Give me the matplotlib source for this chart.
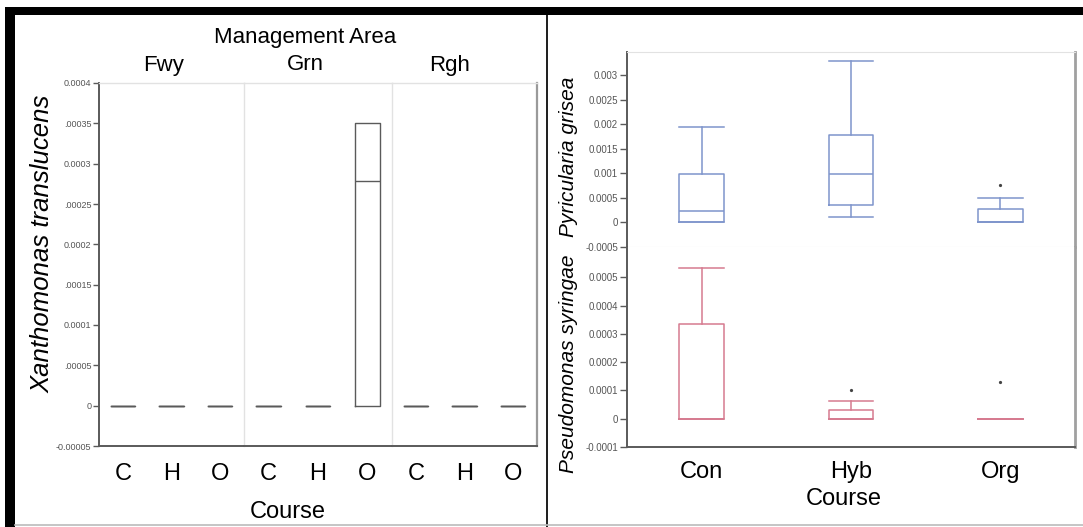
import matplotlib
matplotlib.use("Agg")
import matplotlib.pyplot as plt
from matplotlib.patches import Rectangle
from matplotlib.lines import Line2D

plt.rcParams['font.family'] = ['Liberation Sans', 'DejaVu Sans']

# ---- left chart: Xanthomonas translucens by management area ----
areas = ['Fwy', 'Grn', 'Rgh']
short_courses = ['C', 'H', 'O']
xt_q1 = [[0, 0, 0], [0, 0, 0], [0, 0, 0]]
xt_med = [[0, 0, 0], [0, 0, 0.000278], [0, 0, 0]]
xt_q3 = [[0, 0, 0], [0, 0, 0.000351], [0, 0, 0]]
xt_yticks = [-0.00005, 0, 0.00005, 0.0001, 0.00015, 0.0002, 0.00025, 0.0003, 0.00035, 0.0004]
xt_ylabels = ['-0.00005', '0', '.00005', '0.0001', '.00015', '0.0002', '.00025', '0.0003', '.00035', '0.0004']

# ---- right chart: Pyricularia grisea / Pseudomonas syringae ----
courses = ['Con', 'Hyb', 'Org']
pg_whislo = [0, 0.00012, 0]
pg_q1 = [0, 0.000345, 0]
pg_med = [0.000223, 0.000994, 0]
pg_q3 = [0.000994, 0.001785, 0.000264]
pg_whishi = [0.00195, 0.00329, 0.000507]
pg_fliers = [[], [], [0.00077]]
pg_yticks = [-0.0005, 0, 0.0005, 0.001, 0.0015, 0.002, 0.0025, 0.003]
pg_ylabels = ['-0.0005', '0', '0.0005', '0.001', '0.0015', '0.002', '0.0025', '0.003']

ps_whislo = [0, 0, 0]
ps_q1 = [0, 0, 0]
ps_med = [0, 0, 0]
ps_q3 = [0.000336, 0.000032, 0]
ps_whishi = [0.000532, 0.000064, 0]
ps_fliers = [[], [0.0001], [0.00013]]
ps_yticks = [-0.0001, 0, 0.0001, 0.0002, 0.0003, 0.0004, 0.0005]
ps_ylabels = ['-0.0001', '0', '0.0001', '0.0002', '0.0003', '0.0004', '0.0005']

W, H = 1083, 527
fig = plt.figure(figsize=(W / 100, H / 100), dpi=100)


def px_axes(x0, y0, x1, y1):
    return fig.add_axes([x0 / W, 1 - y1 / H, (x1 - x0) / W, (y1 - y0) / H])


def fx(x):
    return x / W


def fy(y):
    return 1 - y / H


dark = '#5a5a5a'
light = '#e2e2e2'
blue = '#7f95cc'
pink = '#d67b90'

# left facets
edges = [99, 244, 392, 537]
for i, area in enumerate(areas):
    ax = px_axes(edges[i], 83, edges[i + 1], 446)
    stats = []
    for j in range(3):
        stats.append(dict(med=xt_med[i][j], q1=xt_q1[i][j], q3=xt_q3[i][j],
                          whislo=xt_q1[i][j], whishi=xt_q3[i][j], fliers=[]))
    ax.bxp(stats, positions=[0, 1, 2], widths=0.5, showcaps=False, showfliers=False,
           boxprops=dict(color=dark, linewidth=1.0),
           medianprops=dict(color=dark, linewidth=1.0),
           whiskerprops=dict(color=dark, linewidth=1.0))
    ax.set_xlim(-0.5, 2.5)
    ax.set_ylim(-0.00005, 0.0004)
    ax.set_xticks([0, 1, 2])
    ax.set_xticklabels(short_courses, fontsize=17)
    ax.tick_params(axis='x', length=0, pad=12)
    ax.set_yticks(xt_yticks)
    if i == 0:
        ax.set_yticklabels(xt_ylabels, fontsize=6.5, color='#555555')
        ax.tick_params(axis='y', length=4, width=1, color=dark, pad=1.5)
        ax.spines['left'].set_color(dark)
        ax.spines['left'].set_linewidth(1.4)
    else:
        ax.set_yticklabels([])
        ax.tick_params(axis='y', length=0)
        ax.spines['left'].set_color(light)
        ax.spines['left'].set_linewidth(1.0)
    ax.spines['bottom'].set_color(dark)
    ax.spines['bottom'].set_linewidth(1.4)
    ax.spines['top'].set_color(light)
    ax.spines['top'].set_linewidth(1.0)
    if i == 2:
        ax.spines['right'].set_color('#9a9a9a')
        ax.spines['right'].set_linewidth(1.6)
    else:
        ax.spines['right'].set_visible(False)

fig.text(fx(305), fy(37), 'Management Area', fontsize=16, ha='center', va='center')
for area, xc in zip(areas, [164, 305, 450]):
    fig.text(fx(xc), fy(65), area, fontsize=16, ha='center', va='center')
fig.text(fx(288), fy(512), 'Course', fontsize=17, ha='center', va='center')
fig.text(fx(42), fy(244), 'Xanthomonas translucens', fontsize=18.5, style='italic',
         rotation=90, ha='center', va='center')

# right stacked box plots
ax_top = px_axes(627, 52, 1075, 247)
ax_bot = px_axes(627, 247, 1075, 447)


def draw_boxes(ax, whislo, q1, med, q3, whishi, fliers, color):
    stats = []
    for k in range(len(courses)):
        stats.append(dict(med=med[k], q1=q1[k], q3=q3[k],
                          whislo=whislo[k], whishi=whishi[k], fliers=fliers[k]))
    ax.bxp(stats, positions=[0, 1, 2], widths=0.3, capwidths=0.3,
           boxprops=dict(color=color, linewidth=1.1),
           medianprops=dict(color=color, linewidth=1.1),
           whiskerprops=dict(color=color, linewidth=1.1),
           capprops=dict(color=color, linewidth=1.1),
           flierprops=dict(marker='o', markersize=1.3, markerfacecolor='#444444',
                           markeredgecolor='#444444'))
    ax.set_xlim(-0.5, 2.5)


draw_boxes(ax_top, pg_whislo, pg_q1, pg_med, pg_q3, pg_whishi, pg_fliers, blue)
draw_boxes(ax_bot, ps_whislo, ps_q1, ps_med, ps_q3, ps_whishi, ps_fliers, pink)

ax_top.set_ylim(-0.0005, 0.00347)
ax_top.set_yticks(pg_yticks)
ax_top.set_yticklabels(pg_ylabels, fontsize=7, color='#555555')
ax_top.set_xticks([])
ax_bot.set_ylim(-0.0001, 0.000607)
ax_bot.set_yticks(ps_yticks)
ax_bot.set_yticklabels(ps_ylabels, fontsize=7, color='#555555')
ax_bot.set_xticks([0, 1, 2])
ax_bot.set_xticklabels(courses, fontsize=17)
ax_bot.tick_params(axis='x', length=0, pad=10)

for ax in (ax_top, ax_bot):
    ax.tick_params(axis='y', length=5, width=1, color=dark, pad=1.5)
    ax.spines['left'].set_color(dark)
    ax.spines['left'].set_linewidth(1.4)
    ax.spines['right'].set_color('#a0a0a0')
    ax.spines['right'].set_linewidth(2.0)
ax_top.spines['top'].set_color(light)
ax_top.spines['bottom'].set_color(light)
ax_bot.spines['top'].set_visible(False)
ax_bot.spines['bottom'].set_color(dark)
ax_bot.spines['bottom'].set_linewidth(1.4)

fig.text(fx(844), fy(499), 'Course', fontsize=17, ha='center', va='center')
fig.text(fx(568), fy(157), 'Pyricularia grisea', fontsize=15, style='italic',
         rotation=90, ha='center', va='center')
fig.text(fx(568), fy(364), 'Pseudomonas syringae', fontsize=15, style='italic',
         rotation=90, ha='center', va='center')

# black frame of the composite figure
fig.add_artist(Rectangle((fx(5), fy(15)), 1 - fx(5), 8 / H, transform=fig.transFigure,
                         facecolor='black', edgecolor='none'))
fig.add_artist(Rectangle((fx(5), 0), 10 / W, fy(7), transform=fig.transFigure,
                         facecolor='black', edgecolor='none'))
fig.add_artist(Rectangle((fx(545.5), 0), 2.5 / W, fy(15), transform=fig.transFigure,
                         facecolor='#222222', edgecolor='none'))
fig.add_artist(Line2D([fx(15), 1], [fy(525), fy(525)], transform=fig.transFigure,
                      color='#bbbbbb', linewidth=1.2))

fig.savefig('out.png', dpi=100)
